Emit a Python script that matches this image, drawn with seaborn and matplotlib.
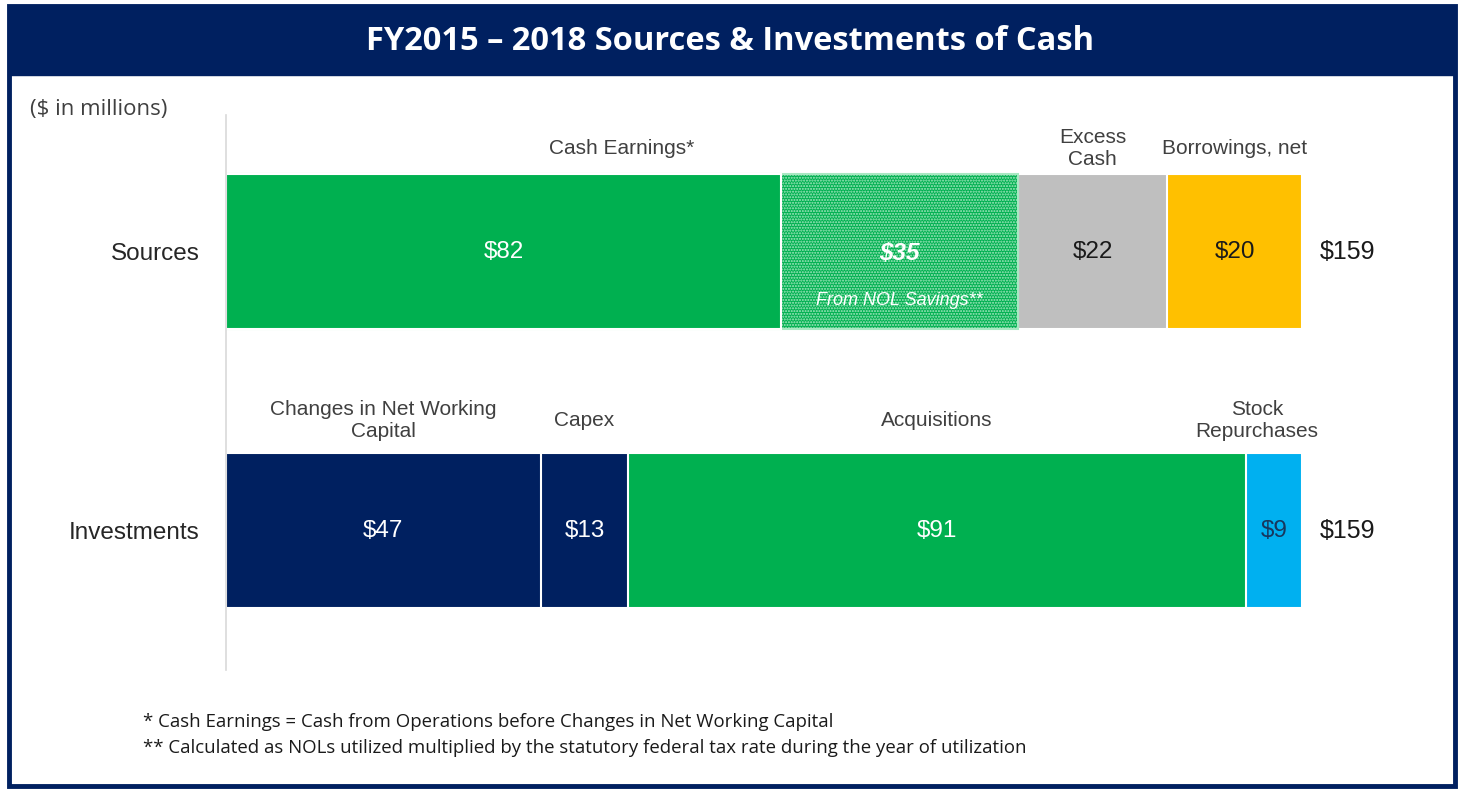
import numpy as np
import pandas as pd
import matplotlib
matplotlib.use("Agg")
import matplotlib.pyplot as plt
from matplotlib.patches import Rectangle
import seaborn as sns

# data ($ in millions)
rows = ["Sources", "Investments"]
src_names = ["Cash Earnings", "NOL Savings", "Excess Cash", "Borrowings, net"]
src_values = [82, 35, 22, 20]
src_labels = ["$82", "$35", "$22", "$20"]
inv_names = ["Changes in Net Working Capital", "Capex", "Acquisitions", "Stock Repurchases"]
inv_values = [46.5, 12.9, 91.2, 8.4]
inv_labels = ["$47", "$13", "$91", "$9"]
totals = ["$159", "$159"]

src_colors = ["#00B050", "#00B050", "#BFBFBF", "#FFC000"]
src_text = ["white", "white", "#1a1a1a", "#1a1a1a"]
inv_colors = ["#002060", "#002060", "#00B050", "#00B0F0"]
inv_text = ["white", "white", "white", "#17375E"]

NAVY = "#002060"

sns.set_theme(style="white")
plt.rcParams["font.family"] = ["Liberation Sans", "DejaVu Sans"]

fig = plt.figure(figsize=(14.62, 7.89), dpi=100)
W, H = 1462, 789


def fx(px):
    return px / W


def fy(py):
    return 1 - py / H


ax = fig.add_axes([fx(226), fy(670), fx(1440) - fx(226), fy(115) - fy(670)])

bar_h = 0.556
for r, (vals, cols) in enumerate([(src_values, src_colors), (inv_values, inv_colors)]):
    cum = np.cumsum(vals)
    for i in range(len(vals) - 1, -1, -1):
        df = pd.DataFrame({"row": [rows[r]], "end": [cum[i]]})
        sns.barplot(data=df, x="end", y="row", order=rows, orient="h",
                    color=cols[i], saturation=1, width=bar_h,
                    edgecolor="white", linewidth=1.5, ax=ax)
        if r == 0 and i == 1:
            p = ax.patches[-1]
            p.set_hatch("......")
            p.set_edgecolor("#A8E8C2")

ax.set_xlim(0, (1440 - 226) / 6.77)
ax.set_ylim(1.5, -0.49)
ax.set_xlabel("")
ax.set_ylabel("")
ax.set_xticks([])
for s in ["top", "right", "bottom"]:
    ax.spines[s].set_visible(False)
ax.spines["left"].set_color("#D9D9D9")
ax.spines["left"].set_linewidth(1.2)
ax.tick_params(axis="y", length=0, pad=19, labelsize=17.5, labelcolor="#262626")

# values inside bars
for r, (vals, labs, tcols) in enumerate([(src_values, src_labels, src_text),
                                          (inv_values, inv_labels, inv_text)]):
    cum = np.cumsum(vals)
    starts = cum - np.array(vals)
    for i, v in enumerate(vals):
        cx = starts[i] + v / 2
        if r == 0 and i == 1:
            ax.text(cx, r + 0.005, labs[i], ha="center", va="center", color="white",
                    fontsize=17.5, fontweight="bold", fontstyle="italic")
            ax.text(cx, r + 0.175, "From NOL Savings**", ha="center", va="center",
                    color="white", fontsize=13, fontstyle="italic")
        else:
            ax.text(cx, r, labs[i], ha="center", va="center", color=tcols[i], fontsize=17.5)
    ax.text(cum[-1] + 2.6, r, totals[r], ha="left", va="center", color="#1a1a1a", fontsize=18)

# headers above bars
hdr = dict(ha="center", va="center", color="#404040", fontsize=15, linespacing=1.2)
ax.text((src_values[0] + src_values[1]) / 2, -0.37, "Cash Earnings*", **hdr)
ax.text(117 + src_values[2] / 2, -0.37, "Excess\nCash", **hdr)
ax.text(139 + src_values[3] / 2, -0.37, "Borrowings, net", **hdr)
inv_cum = np.cumsum(inv_values)
inv_start = inv_cum - np.array(inv_values)
ax.text(inv_start[0] + inv_values[0] / 2, 0.606, "Changes in Net Working\nCapital", **hdr)
ax.text(inv_start[1] + inv_values[1] / 2, 0.606, "Capex", **hdr)
ax.text(inv_start[2] + inv_values[2] / 2, 0.606, "Acquisitions", **hdr)
ax.text(inv_start[3] + inv_values[3] / 2 - 2.5, 0.606, "Stock\nRepurchases", **hdr)

# frame and title banner
fig.patches.append(Rectangle((fx(9), fy(786)), fx(1455) - fx(9), fy(6) - fy(786),
                             transform=fig.transFigure, fill=False,
                             edgecolor=NAVY, linewidth=3.5, zorder=0))
fig.patches.append(Rectangle((fx(9), fy(75)), fx(1455) - fx(9), fy(6) - fy(75),
                             transform=fig.transFigure, facecolor=NAVY,
                             edgecolor=NAVY, zorder=0))
fig.text(fx(730), fy(42), "FY2015 \u2013 2018 Sources & Investments of Cash",
         ha="center", va="center", color="white", fontsize=23.5, fontweight="bold",
         family=["Open Sans", "DejaVu Sans"])
fig.text(fx(30), fy(110), "($ in millions)", ha="left", va="center",
         color="#404040", fontsize=16, family=["Open Sans", "DejaVu Sans"])

foot = dict(ha="left", va="center", color="#1a1a1a", fontsize=13.4,
            family=["Open Sans", "DejaVu Sans"])
fig.text(fx(143), fy(722), "* Cash Earnings = Cash from Operations before Changes in Net Working Capital", **foot)
fig.text(fx(143), fy(748), "** Calculated as NOLs utilized multiplied by the statutory federal tax rate during the year of utilization", **foot)

fig.savefig("out.png", dpi=100)
